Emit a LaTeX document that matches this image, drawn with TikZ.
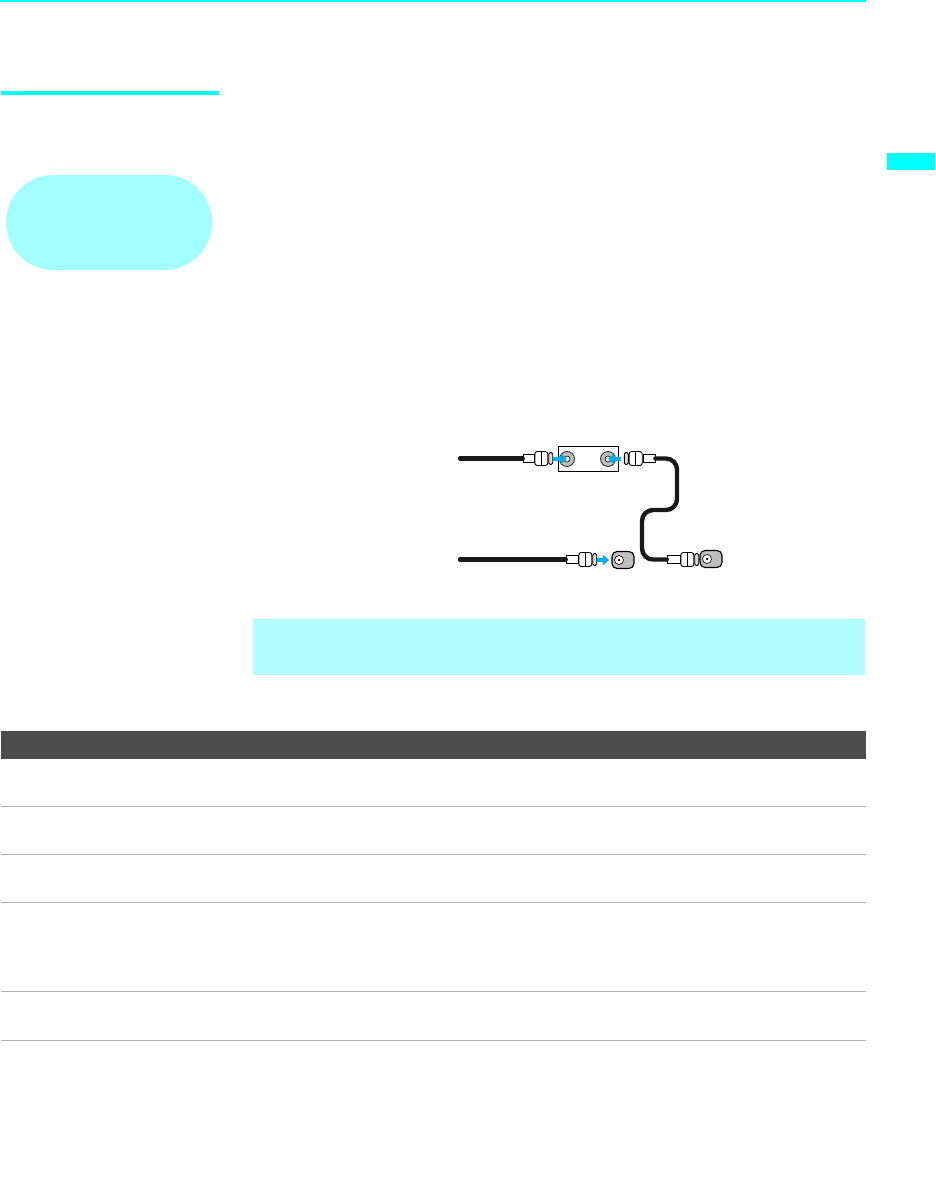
\documentclass[tikz,border=0pt]{standalone}
\usepackage{tikz}
\usetikzlibrary{arrows.meta,positioning,shapes.misc}
\definecolor{rulecyan}{HTML}{00FFFF}
\definecolor{palecyan}{HTML}{A3FFFF}
\definecolor{notecyan}{HTML}{B3FFFF}
\definecolor{headgray}{HTML}{4D4D4D}
\definecolor{linegray}{HTML}{B3B3B3}
\definecolor{flowblue}{HTML}{00AEEF}

\begin{document}
\begin{tikzpicture}[
  x=1pt, y=-1pt,
  band/.style={fill=#1, inner sep=0pt, outer sep=0pt, anchor=north west},
  sep/.style={draw=linegray, line width=1pt},
  cable/.style={line width=4.4pt, line cap=round, rounded corners=11pt, black!90},
  collar/.style={draw, fill=white, line width=0.7pt, inner sep=0pt, minimum width=11pt, minimum height=8pt},
  nut/.style={draw, fill=white, line width=0.9pt, rounded corners=2.5pt, inner sep=0pt, minimum width=13pt, minimum height=14pt},
  ring/.style={draw, fill=black!15, line width=0.9pt, rounded corners=1.5pt, inner sep=0pt, minimum width=4pt, minimum height=12pt},
  jack/.style={circle, draw=black!80, fill=black!25, line width=0.9pt, inner sep=0pt, minimum size=15pt},
  hole/.style={circle, draw, fill=white, line width=0.6pt, inner sep=0pt, minimum size=6pt},
  wall/.style={draw, fill=black!25, line width=1.1pt, rounded corners=5pt, inner sep=0pt, minimum width=22pt, minimum height=17pt},
  flow/.style={-{Triangle[length=6pt,width=10.5pt]}, line width=4.6pt, flowblue},
]
\useasboundingbox (0,0) rectangle (935,1198);
% --- page furniture ---
\node[band=rulecyan, minimum width=866pt, minimum height=2pt] (toprule) at (0,0) {};
\node[band=rulecyan, minimum width=218pt, minimum height=4pt] (headbar) at (1,91) {};
\node[band=rulecyan, minimum width=48pt, minimum height=17pt] (tab) at (887,153) {};
\node[rounded rectangle, fill=palecyan, inner sep=0pt, minimum width=206pt, minimum height=95pt] (pill) at (109,222.5) {};
\node[band=notecyan, minimum width=612pt, minimum height=56pt] (note) at (253,619) {};
% --- table ---
\node[band=headgray, minimum width=865pt, minimum height=28pt] (thead) at (1,731) {};
\foreach \y in {806,854,902,991,1040}
  \draw[sep] (1,\y) -- (866,\y);
% --- splitter box and jacks ---
\node[draw, line width=0.8pt, inner sep=0pt, minimum width=60pt, minimum height=25pt] (splitter) at (588,458.5) {};
\node[jack] (jackA) at (567,459) {};
\node[hole] at (jackA) {};
\node[jack] (jackB) at (608,459) {};
\node[hole] at (jackB) {};
% --- wall jacks ---
\node[wall] (wallA) at (623,560) {};
\node[hole, minimum size=9pt] (holeA) at (619,560) {};
\node[circle, fill=black, inner sep=0pt, minimum size=2.5pt] at (holeA) {};
\node[wall] (wallB) at (711,559) {};
\node[hole, minimum size=9pt] (holeB) at (707,559) {};
\node[circle, fill=black, inner sep=0pt, minimum size=2.5pt] at (holeB) {};
% --- plugs ---
\node[collar] (collarA) at (528.5,458.5) {};
\node[nut, right=0pt of collarA] (nutA) {};
\node[ring, right=0pt of nutA] (ringA) {};
\node[collar, minimum width=12pt] (collarB) at (649,458.5) {};
\node[nut, left=0pt of collarB] (nutB) {};
\node[ring, left=0pt of nutB] (ringB) {};
\node[collar, minimum width=12pt] (collarC) at (572,559.5) {};
\node[nut, right=0pt of collarC] (nutC) {};
\node[ring, right=0pt of nutC] (ringC) {};
\node[collar, minimum width=13pt] (collarD) at (673.5,559.5) {};
\node[nut, right=0pt of collarD] (nutD) {};
\node[ring, right=0pt of nutD] (ringD) {};
\foreach \p in {nutA,nutB,nutC,nutD}
  \draw[line width=0.5pt] (\p.north) -- (\p.south);
% --- free cable ends ---
\coordinate (endA) at (460,458.5);
\coordinate (endC) at (460,559.5);
% --- cables ---
\draw[cable] (endA) -- (collarA.west);
\draw[cable] (endC) -- (collarC.west);
\draw[cable] (collarB.east) -- (677,458.5) -- (677,510) -- (642,510) -- (642,559.5) -- (collarD.west);
\draw[line width=0.8pt] (ringD.east) -- (wallB.west);
% --- arrows ---
\coordinate (startA) at (553,459);
\coordinate (startB) at (621,459);
\coordinate (startC) at (597,560);
\draw[flow] (startA) -- (jackA.center);
\draw[flow] (startB) -- (jackB.center);
\draw[flow, shorten >=2.5pt] (startC) -- (wallA.west);
\end{tikzpicture}
\end{document}
